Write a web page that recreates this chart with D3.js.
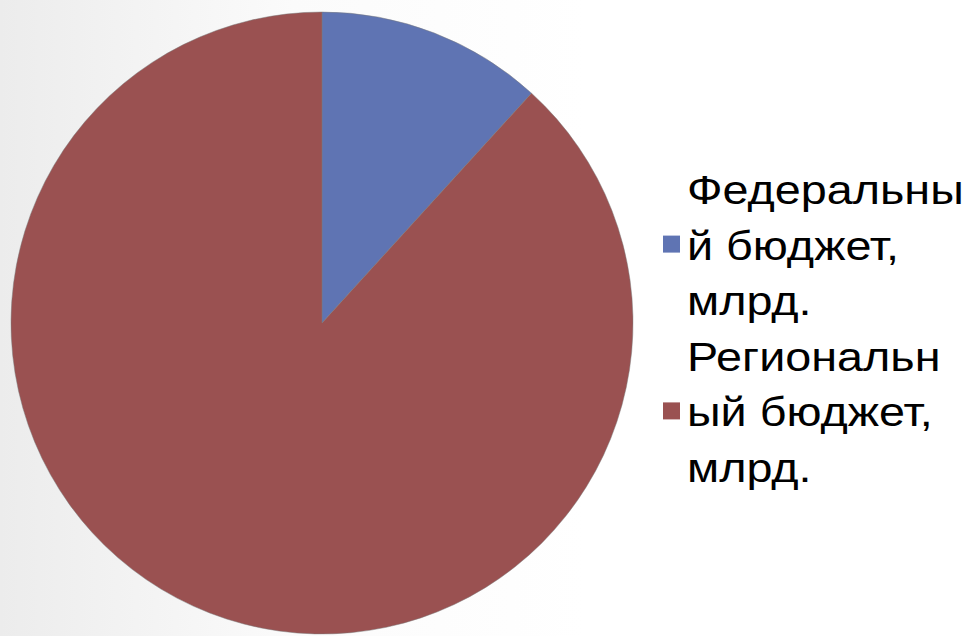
<!DOCTYPE html>
<html>
<head>
<meta charset="utf-8">
<script src="https://cdn.jsdelivr.net/npm/d3@7"></script>
<style>
    html, body { margin: 0; padding: 0; background: #fff; }
    svg { display: block; }
    .legend text { font-family: "Liberation Sans", Arial, sans-serif; font-size: 41px; fill: #000; }
</style>
</head>
<body>
<svg width="975" height="636"></svg>
<script>
// data
var categories = ["Федеральный бюджет, млрд.", "Региональный бюджет, млрд."];
var values = [2, 15];
var colors = ["#5f74b3", "#9a5151"];
// legend lines as wrapped in the original
var legendLines = [
    ["Федеральны", "й бюджет,", "млрд."],
    ["Региональн", "ый бюджет,", "млрд."]
];

window.onload = main;

function main() {
    var width = 975,
        height = 636;

    var svg = d3.select("svg");

    // soft grey shade on the left side of the slide
    var defs = svg.append("defs");
    var grad = defs.append("linearGradient")
        .attr("id", "bg")
        .attr("x1", "0").attr("x2", "1").attr("y1", "0").attr("y2", "0");
    grad.append("stop").attr("offset", "0").attr("stop-color", "#ececec");
    grad.append("stop").attr("offset", "0.3").attr("stop-color", "#fbfbfb");
    grad.append("stop").attr("offset", "0.6").attr("stop-color", "#ffffff");

    svg.append("rect")
        .attr("width", width)
        .attr("height", height)
        .attr("fill", "url(#bg)");

    var cx = 322, cy = 323, radius = 311;

    var pie = d3.pie().sort(null).value(function (d) { return d; });
    var arc = d3.arc().innerRadius(0).outerRadius(radius);
    var color = d3.scaleOrdinal().domain(categories).range(colors);

    var g = svg.append("g").attr("transform", "translate(" + cx + "," + cy + ")");

    g.selectAll("path")
        .data(pie(values))
        .enter()
        .append("path")
        .attr("d", arc)
        .attr("fill", function (d, i) { return color(categories[i]); })
        .attr("stroke", "#7a7a7a")
        .attr("stroke-width", 0.8)
        .attr("stroke-opacity", 0.6);

    // legend (text is a bit stretched horizontally in the original)
    var lineH = 55.6;
    var legend = svg.append("g").attr("class", "legend");
    var y0 = 204;

    legendLines.forEach(function (lines, i) {
        var top = y0 + i * lineH * 3;
        legend.append("rect")
            .attr("x", 663)
            .attr("y", top + lineH - 24)
            .attr("width", 17)
            .attr("height", 17)
            .attr("fill", color(categories[i]));

        var t = legend.append("text")
            .attr("transform", "translate(687," + top + ") scale(1.14,1)");
        t.selectAll("tspan")
            .data(lines)
            .enter()
            .append("tspan")
            .attr("x", 0)
            .attr("y", function (d, j) { return j * lineH; })
            .text(function (d) { return d; });
    });
}
</script>
</body>
</html>
